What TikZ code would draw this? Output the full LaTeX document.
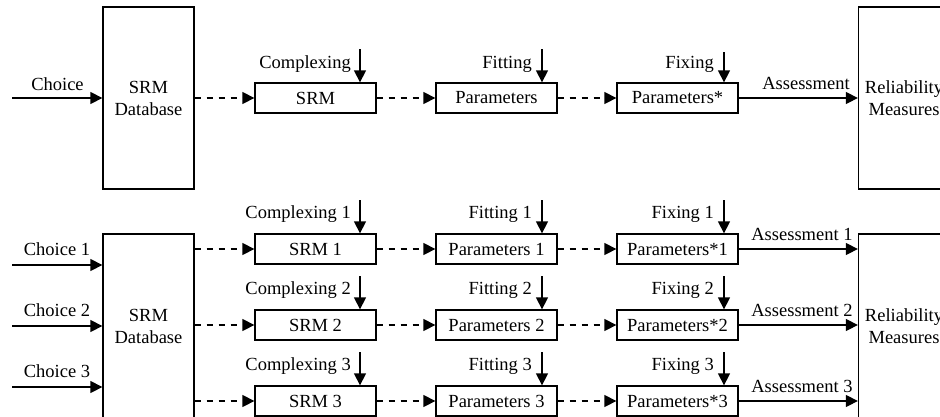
\documentclass[tikz,border=0pt]{standalone}
\usepackage{fontspec}
\setmainfont{Liberation Serif}
\usetikzlibrary{arrows.meta}
\begin{document}
\begin{tikzpicture}[x=1pt,y=-1pt,
  font=\fontsize{18.5}{22}\selectfont,
  lw/.style={line width=1.3pt},
  box/.style={draw,lw,minimum width=121pt,minimum height=30pt,inner sep=0pt},
  bigbox/.style={draw,lw,minimum width=91pt,minimum height=182pt,inner sep=0pt,align=center},
  arr/.style={lw,-{Triangle[length=12pt,width=12pt]}},
  darr/.style={arr,dash pattern=on 6.5pt off 5.5pt},
  lbl/.style={inner sep=0pt,anchor=base},
  lblr/.style={inner sep=0pt,anchor=base east}]
\clip (0,0) rectangle (940,416);
% ---------- top chain ----------
\node[bigbox] (db1) at (148.5,98) {SRM\\Database};
\node[box] (srm) at (315.5,98) {SRM};
\node[box] (par) at (496.5,98) {Parameters};
\node[box] (pfx) at (677.5,98) {Parameters*};
\node[bigbox] (rel1) at (904,98) {Reliability\\Measures};
\coordinate (c0) at (12,98);
\draw[arr] (c0) -- (db1.west);
\node[lbl] (lc0) at (57.5,90) {Choice};
\draw[darr] (db1.east) -- (srm.west);
\draw[darr] (srm.east) -- (par.west);
\draw[darr] (par.east) -- (pfx.west);
\draw[arr] (pfx.east) -- (rel1.west);
\node[lbl] (la0) at (806,89) {Assessment};
\coordinate (k0) at (360,49);
\coordinate (f0) at (542,49);
\coordinate (x0) at (724,52);
\draw[arr] (k0) -- (k0 |- srm.north);
\draw[arr] (f0) -- (f0 |- par.north);
\draw[arr] (x0) -- (x0 |- pfx.north);
\node[lblr] (lk0) at (351,68) {Complexing};
\node[lblr] (lf0) at (532,68) {Fitting};
\node[lblr] (lx0) at (714,68) {Fixing};
% ---------- bottom chains ----------
\node[bigbox,minimum height=184pt] (db2) at (148.5,326) {SRM\\Database};
\node[bigbox,minimum height=184pt] (rel2) at (904,326) {Reliability\\Measures};
\foreach \i/\y/\cy/\ay in {1/249/265/200, 2/325/326/276, 3/401/387/352}{
  \node[box] (s\i) at (315.5,\y) {SRM \i};
  \node[box] (p\i) at (496.5,\y) {Parameters \i};
  \node[box] (q\i) at (677.5,\y) {Parameters*\i};
  \coordinate (c\i) at (12,\cy);
  \draw[arr] (c\i) -- (c\i -| db2.west);
  \node[lbl] (lc\i) at (57,\cy-10) {Choice \i};
  \draw[darr] (db2.east |- s\i) -- (s\i.west);
  \draw[darr] (s\i.east) -- (p\i.west);
  \draw[darr] (p\i.east) -- (q\i.west);
  \draw[arr] (q\i.east) -- (q\i.east -| rel2.west);
  \node[lbl] (la\i) at (802,\y-9) {Assessment \i};
  \coordinate (k\i) at (360,\ay);
  \coordinate (f\i) at (542,\ay);
  \coordinate (x\i) at (724,\ay);
  \draw[arr] (k\i) -- (k\i |- s\i.north);
  \draw[arr] (f\i) -- (f\i |- p\i.north);
  \draw[arr] (x\i) -- (x\i |- q\i.north);
  \node[lblr] (lk\i) at (351,\ay+18) {Complexing \i};
  \node[lblr] (lf\i) at (532,\ay+18) {Fitting \i};
  \node[lblr] (lx\i) at (714,\ay+18) {Fixing \i};
}
\end{tikzpicture}
\end{document}
